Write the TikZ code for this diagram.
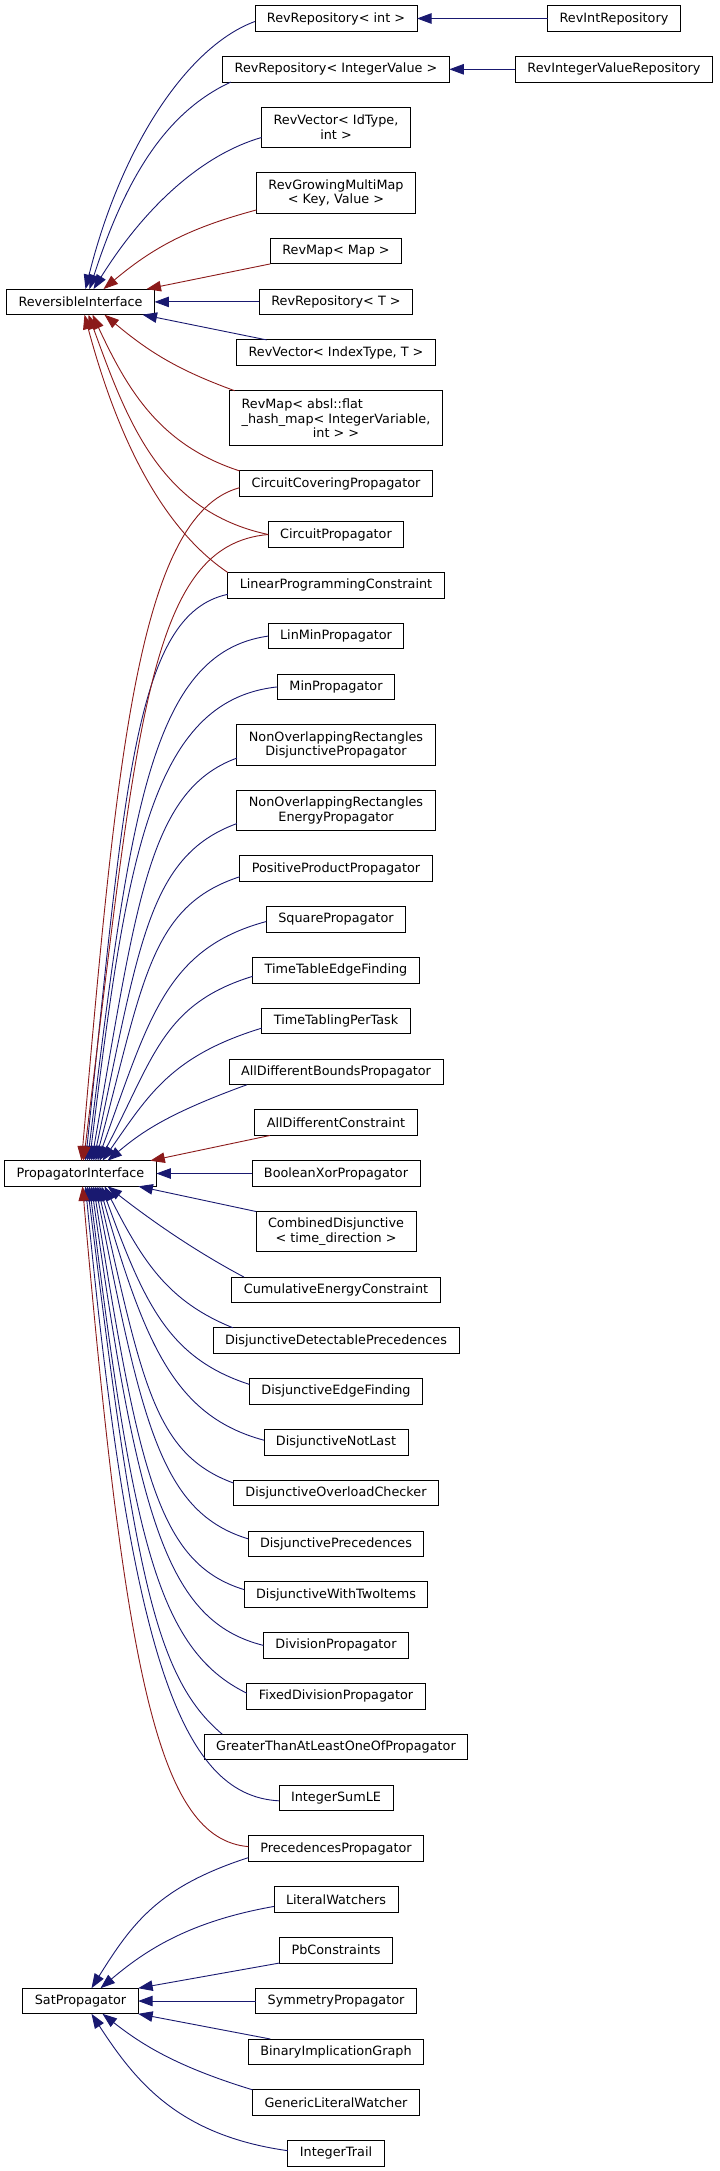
\documentclass[tikz,border=0pt]{standalone}
\usepackage{fontspec}
\setmainfont{DejaVu Sans}
\usetikzlibrary{positioning, arrows.meta}
\definecolor{pubblue}{HTML}{191970}
\definecolor{privred}{HTML}{8B1A1A}

\begin{document}
\begin{tikzpicture}[node distance=25.2pt,
    cls/.style={draw, line width=0.9pt, font=\fontsize{12.8}{14.7}\selectfont,
      inner xsep=12pt, inner ysep=2pt, outer sep=0pt, minimum height=25.6pt, align=center},
    two/.style={minimum height=40.3pt},
    three/.style={minimum height=55pt},
    pub/.style={color=pubblue, line width=0.9pt, -{Triangle[length=14.5pt,width=10.5pt]}},
    priv/.style={pub, color=privred}]
  \useasboundingbox (0,0) rectangle (720pt,-2171pt);

  % derived classes, one column
  \node[cls] (revrepint) at (336pt,-18.5pt) {RevRepository< int >};
  \node[cls] (revrepiv) [below=of revrepint] {RevRepository< IntegerValue >};
  \node[cls,two] (revvecid) [below=of revrepiv] {RevVector< IdType,\\int >};
  \node[cls,two] (revgrow) [below=of revvecid] {RevGrowingMultiMap\\< Key, Value >};
  \node[cls] (revmapmap) [below=of revgrow] {RevMap< Map >};
  \node[cls] (revrept) [below=of revmapmap] {RevRepository< T >};
  \node[cls] (revvecidx) [below=of revrept] {RevVector< IndexType, T >};
  \node[cls,three] (revmapabsl) [below=of revvecidx] {\rlap{RevMap< absl::flat}\phantom{\_hash\_map< IntegerVariable,}\\\_hash\_map< IntegerVariable,\\int > >};
  \node[cls] (circcov) [below=of revmapabsl] {CircuitCoveringPropagator};
  \node[cls] (circ) [below=of circcov] {CircuitPropagator};
  \node[cls] (linprog) [below=of circ] {LinearProgrammingConstraint};
  \node[cls] (linmin) [below=of linprog] {LinMinPropagator};
  \node[cls] (minprop) [below=of linmin] {MinPropagator};
  \node[cls,two] (nonod) [below=of minprop] {NonOverlappingRectangles\\DisjunctivePropagator};
  \node[cls,two] (nonoe) [below=of nonod] {NonOverlappingRectangles\\EnergyPropagator};
  \node[cls] (posprod) [below=of nonoe] {PositiveProductPropagator};
  \node[cls] (square) [below=of posprod] {SquarePropagator};
  \node[cls] (ttef) [below=of square] {TimeTableEdgeFinding};
  \node[cls] (ttpt) [below=of ttef] {TimeTablingPerTask};
  \node[cls] (alldiffb) [below=of ttpt] {AllDifferentBoundsPropagator};
  \node[cls] (alldiffc) [below=of alldiffb] {AllDifferentConstraint};
  \node[cls] (boolxor) [below=of alldiffc] {BooleanXorPropagator};
  \node[cls,two] (combined) [below=of boolxor] {CombinedDisjunctive\\< time\_direction >};
  \node[cls] (cumul) [below=of combined] {CumulativeEnergyConstraint};
  \node[cls] (disjdet) [below=of cumul] {DisjunctiveDetectablePrecedences};
  \node[cls] (disjedge) [below=of disjdet] {DisjunctiveEdgeFinding};
  \node[cls] (disjnl) [below=of disjedge] {DisjunctiveNotLast};
  \node[cls] (disjol) [below=of disjnl] {DisjunctiveOverloadChecker};
  \node[cls] (disjprec) [below=of disjol] {DisjunctivePrecedences};
  \node[cls] (disjtwo) [below=of disjprec] {DisjunctiveWithTwoItems};
  \node[cls] (division) [below=of disjtwo] {DivisionPropagator};
  \node[cls] (fixeddiv) [below=of division] {FixedDivisionPropagator};
  \node[cls] (greater) [below=of fixeddiv] {GreaterThanAtLeastOneOfPropagator};
  \node[cls] (intsumle) [below=of greater] {IntegerSumLE};
  \node[cls] (precprop) [below=of intsumle] {PrecedencesPropagator};
  \node[cls] (litwatch) [below=of precprop] {LiteralWatchers};
  \node[cls] (pbcons) [below=of litwatch] {PbConstraints};
  \node[cls] (symmetry) [below=of pbcons] {SymmetryPropagator};
  \node[cls] (binimpl) [below=of symmetry] {BinaryImplicationGraph};
  \node[cls] (genlit) [below=of binimpl] {GenericLiteralWatcher};
  \node[cls] (inttrail) [below=of genlit] {IntegerTrail};

  % base classes and the two leaves on the right
  \node[cls] (revi) at ([xshift=-255.5pt]revrept) {ReversibleInterface};
  \node[cls] (propi) at ([xshift=-255.5pt]boolxor) {PropagatorInterface};
  \node[cls] (satp) at ([xshift=-255.5pt]symmetry) {SatPropagator};
  \node[cls] (revintrepo) at ([xshift=278pt]revrepint) {RevIntRepository};
  \node[cls] (revivrepo) at ([xshift=278pt]revrepiv) {RevIntegerValueRepository};

  % public inheritance
  \path[pub]
    (revintrepo) edge (revrepint)
    (revivrepo) edge (revrepiv)
    ([yshift=-3pt]revrepint.west) edge[out=200,in=76,out distance=70pt,in distance=150pt] ([xshift=5pt]revi.north)
    ([xshift=8pt]revrepiv.south west) edge[out=205,in=72,out distance=70pt,in distance=120pt] ([xshift=9pt]revi.north)
    ([yshift=-10pt]revvecid.west) edge[out=196,in=58,out distance=60pt,in distance=100pt] ([xshift=13pt]revi.north)
    (revrept) edge (revi)
    ([xshift=30pt]revvecidx.north west) edge ([xshift=-12pt]revi.south east)
    ([yshift=-9pt]linprog.west) edge[out=192,in=84,out distance=95pt,in distance=380pt] ([xshift=5pt]propi.north)
    (linmin.west) edge[out=188,in=83,out distance=120pt,in distance=345pt] ([xshift=7pt]propi.north)
    (minprop.west) edge[out=186,in=83,out distance=128pt,in distance=302pt] ([xshift=9pt]propi.north)
    ([yshift=-13pt]nonod.west) edge[out=200,in=80,out distance=95pt,in distance=260pt] ([xshift=11pt]propi.north)
    ([yshift=-13pt]nonoe.west) edge[out=200,in=78,out distance=95pt,in distance=220pt] ([xshift=13pt]propi.north)
    ([yshift=-8pt]posprod.west) edge[out=198,in=75,out distance=95pt,in distance=185pt] ([xshift=15pt]propi.north)
    ([yshift=-2pt]square.west) edge[out=195,in=70,out distance=105pt,in distance=150pt] ([xshift=17pt]propi.north)
    ([yshift=-6pt]ttef.west) edge[out=197,in=62,out distance=95pt,in distance=115pt] ([xshift=19pt]propi.north)
    ([yshift=-7pt]ttpt.west) edge[out=197,in=55,out distance=95pt,in distance=80pt] ([xshift=22pt]propi.north)
    ([xshift=18pt]alldiffb.south west) edge[out=200,in=40,out distance=84pt,in distance=45pt] ([xshift=27pt]propi.north)
    (boolxor) edge (propi)
    (combined.north west) edge ([xshift=-18pt]propi.south east)
    ([xshift=12pt]cumul.north west) edge[out=152,in=-38,out distance=60pt,in distance=50pt] ([xshift=27pt]propi.south)
    ([xshift=20pt]disjdet.north west) edge[out=158,in=-63,out distance=70pt,in distance=85pt] ([xshift=24pt]propi.south)
    ([yshift=7pt]disjedge.west) edge[out=162,in=-70,out distance=85pt,in distance=125pt] ([xshift=21pt]propi.south)
    ([yshift=2pt]disjnl.west) edge[out=165,in=-74,out distance=92pt,in distance=165pt] ([xshift=19pt]propi.south)
    ([yshift=10pt]disjol.west) edge[out=160,in=-77,out distance=85pt,in distance=200pt] ([xshift=17pt]propi.south)
    ([yshift=5pt]disjprec.west) edge[out=163,in=-79,out distance=90pt,in distance=245pt] ([xshift=15pt]propi.south)
    ([yshift=5pt]disjtwo.west) edge[out=163,in=-81,out distance=90pt,in distance=290pt] ([xshift=13pt]propi.south)
    (division.west) edge[out=166,in=-82,out distance=100pt,in distance=335pt] ([xshift=11pt]propi.south)
    ([yshift=3pt]fixeddiv.west) edge[out=154,in=-83,out distance=100pt,in distance=354pt] ([xshift=9pt]propi.south)
    ([xshift=18pt]greater.north west) edge[out=140,in=-83,out distance=90pt,in distance=383pt] ([xshift=7pt]propi.south)
    ([yshift=-3pt]intsumle.west) edge[out=177,in=-84.5,out distance=100pt,in distance=466pt] ([xshift=5pt]propi.south)
    ([yshift=-9pt]precprop.west) edge[out=198,in=58,out distance=94pt,in distance=78pt] ([xshift=11pt]satp.north)
    ([yshift=-7pt]litwatch.west) edge[out=190,in=40,out distance=90pt,in distance=55pt] ([xshift=20pt]satp.north)
    (pbcons.south west) edge (satp.north east)
    (symmetry) edge (satp)
    ([xshift=22pt]binimpl.north west) edge (satp.south east)
    (genlit.north west) edge[out=163,in=-38,out distance=80pt,in distance=50pt] ([xshift=22pt]satp.south)
    ([yshift=2.7pt]inttrail.west) edge[out=172,in=-57,out distance=110pt,in distance=82pt] ([xshift=11pt]satp.south);

  % private inheritance
  \path[priv]
    ([yshift=-17pt]revgrow.west) edge[out=195,in=40] ([xshift=23pt]revi.north)
    (revmapmap.south west) edge ([xshift=-8pt]revi.north east)
    ([xshift=5pt]revmapabsl.north west) edge[out=160,in=-40] ([xshift=24pt]revi.south)
    (circcov.north west) edge[out=162,in=-65] ([xshift=12pt]revi.south)
    (circ.west) edge[out=168,in=-70] ([xshift=8pt]revi.south)
    (linprog.north west) edge[out=146,in=-75,out distance=60pt,in distance=160pt] ([xshift=4pt]revi.south)
    ([yshift=-4pt]circcov.west) edge[out=195,in=85,out distance=105pt,in distance=403pt] ([xshift=1pt]propi.north)
    (circ.west) edge[out=185,in=83,out distance=120pt,in distance=444pt] ([xshift=3pt]propi.north)
    ([xshift=15pt]alldiffc.south west) edge ([xshift=-6pt]propi.north east)
    ([yshift=2pt]precprop.west) edge[out=175,in=-85,out distance=90pt,in distance=495pt] ([xshift=2pt]propi.south);
\end{tikzpicture}
\end{document}
